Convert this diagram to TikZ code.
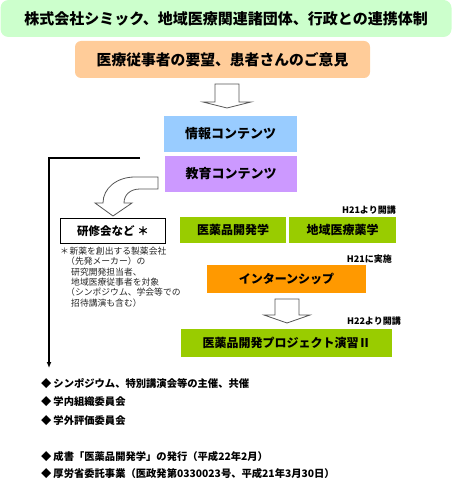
\documentclass[tikz,border=0pt]{standalone}
\usepackage{fontspec}
\usetikzlibrary{arrows.meta}
\setmainfont{Noto Sans CJK JP}
\definecolor{ttlgreen}{HTML}{CCFFCC}
\definecolor{peach}{HTML}{FFCC99}
\definecolor{infoblue}{HTML}{99CCFF}
\definecolor{edupurple}{HTML}{CC99FF}
\definecolor{leaf}{HTML}{99CC00}
\definecolor{ornge}{HTML}{FF9900}
\definecolor{arrowgray}{HTML}{555555}
\tikzset{
  box/.style={draw=none, inner sep=0pt, align=center, font=\bfseries},
  blockarrow/.style={draw=arrowgray, fill=white, line width=0.8pt, line join=miter},
  small/.style={font=\bfseries\fontsize{9}{10}\selectfont, inner sep=0pt},
  bullet/.style={anchor=west, inner sep=0pt, font=\bfseries\fontsize{10.3}{12}\selectfont},
}
\begin{document}
\begin{tikzpicture}[x=1pt,y=-1pt]
\useasboundingbox (0,0) rectangle (452,484);
% title
\node[box, fill=ttlgreen, rounded corners=8pt, minimum width=451pt, minimum height=37pt,
  font=\bfseries\fontsize{15}{16}\selectfont] (title) at (226,18.5)
  {株式会社シミック、地域医療関連諸団体、行政との連携体制};
\node[box, fill=peach, rounded corners=6pt, minimum width=295pt, minimum height=37pt,
  font=\bfseries\fontsize{14.8}{16}\selectfont] (demand) at (222.5,59.5)
  {医療従事者の要望、患者さんのご意見};
% arrow 1
\draw[blockarrow] (215,84) -- (239,84) -- (239,102) -- (251,102) -- (227,108) -- (203,102) -- (215,102) -- cycle;
% contents
\node[box, fill=infoblue, minimum width=133pt, minimum height=36pt,
  font=\bfseries\fontsize{13}{15}\selectfont] (info) at (230.5,134) {情報コンテンツ};
\node[box, fill=edupurple, minimum width=132pt, minimum height=36pt,
  font=\bfseries\fontsize{13}{15}\selectfont] (edu) at (231,174) {教育コンテンツ};
% line down
\coordinate (lt) at (140,158);
\coordinate (lc) at (49,158);
\coordinate (lb) at (49,368);
\draw[line width=1.2pt, -{Latex[length=6pt,width=5pt]}] (lt) -- (lc) -- (lb);
% curved arrow
\draw[blockarrow] (158,177) -- (135,177) .. controls (117,177) and (103,188) .. (103,203)
  -- (95,203) -- (113,216) -- (132,203) -- (124,203)
  .. controls (124,195) and (130,189) .. (140,189) -- (158,189) -- cycle;
% kenshu
\node[box, draw=black, line width=1.3pt, fill=white, minimum width=105pt, minimum height=25pt,
  font=\bfseries\fontsize{11.5}{13}\selectfont] (kenshu) at (113,231) {研修会など ＊};
\node[anchor=north west, inner sep=0pt, align=left, text=black!85,
  font=\fontsize{8.8}{10.3}\selectfont] (note) at (60,247)
  {＊\hspace{0.6pt}新薬を創出する製薬会社\\
   \hspace{6pt}（先発メーカー）の\\
   \hspace{11pt}研究開発担当者、\\
   \hspace{11pt}地域医療従事者を対象\\
   \hspace{6pt}（シンポジウム、学会等での\\
   \hspace{11pt}招待講演も含む）};
% right side
\node[small, anchor=east] (h21a) at (396,210) {H21より開講};
\node[box, fill=leaf, minimum width=106pt, minimum height=26pt,
  font=\bfseries\fontsize{12}{14}\selectfont] (yakuhin) at (233,230) {医薬品開発学};
\node[box, fill=leaf, minimum width=107pt, minimum height=26pt,
  font=\bfseries\fontsize{12}{14}\selectfont] (chiiki) at (342.5,230) {地域医療薬学};
\node[small, anchor=east] (h21b) at (392,259) {H21に実施};
\node[box, fill=ornge, minimum width=159pt, minimum height=28pt,
  font=\bfseries\fontsize{12}{14}\selectfont] (intern) at (286.5,279) {インターンシップ};
\draw[blockarrow] (275,299) -- (299,299) -- (299,315) -- (310,315) -- (287,323) -- (264,315) -- (275,315) -- cycle;
\node[small, anchor=east] (h22) at (401,321) {H22より開講};
\node[box, fill=leaf, minimum width=211pt, minimum height=28pt,
  font=\bfseries\fontsize{12}{14}\selectfont] (project) at (286.5,343) {医薬品開発プロジェクト演習Ⅱ};
% bullets
\node[bullet] (b1) at (41,384) {◆\hspace{2pt}シンポジウム、特別講演会等の主催、共催};
\node[bullet] (b2) at (41,402) {◆\hspace{2pt}学内組織委員会};
\node[bullet] (b3) at (41,421) {◆\hspace{2pt}学外評価委員会};
\node[bullet] (b4) at (41,457) {◆\hspace{2pt}成書「医薬品開発学」の発行（平成22年2月）};
\node[bullet] (b5) at (41,474) {◆\hspace{2pt}厚労省委託事業（医政発第0330023号、平成21年3月30日）};
\end{tikzpicture}
\end{document}
